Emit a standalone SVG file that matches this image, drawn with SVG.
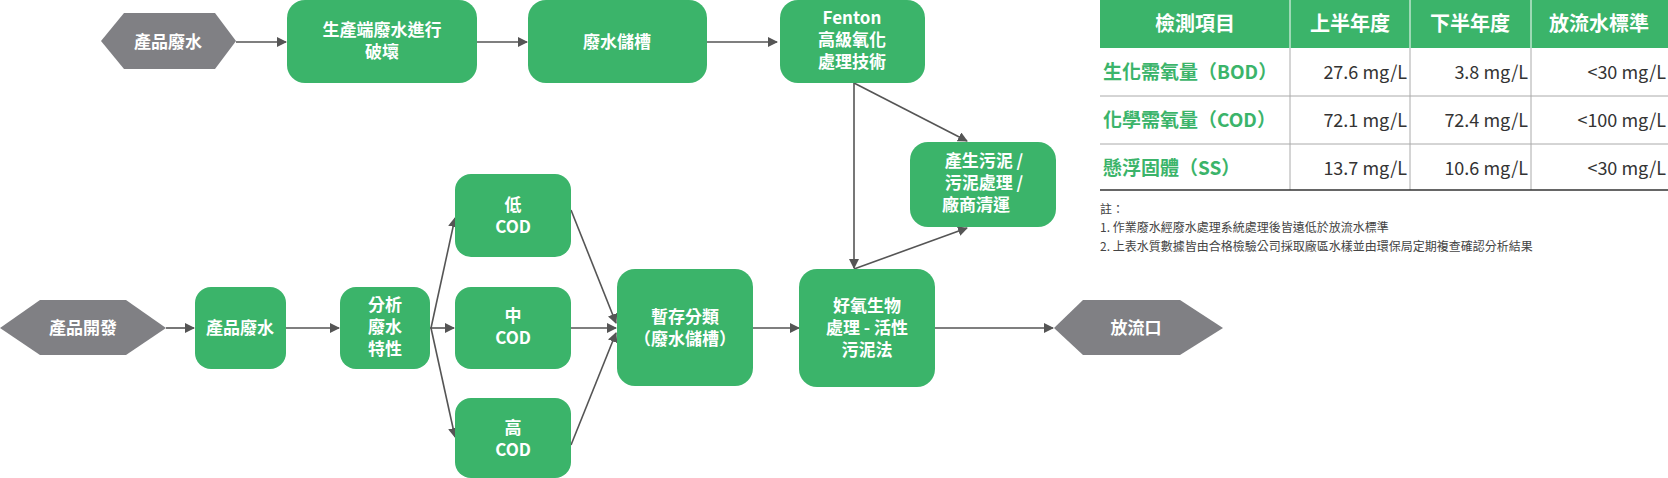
<svg xmlns="http://www.w3.org/2000/svg" width="1668" height="478" viewBox="0 0 1668 478">
<style>
.b{fill:#3bb46a}
.h{fill:#808084}
.t{font-family:"Noto Sans CJK TC","Noto Sans",sans-serif;font-weight:bold;font-size:17px;fill:#fff;text-anchor:middle}
.c line,.c polyline{stroke:#555;stroke-width:1.6;fill:none;marker-end:url(#a)}
.th{font-family:"Noto Sans CJK TC",sans-serif;font-weight:bold;font-size:20px;fill:#fff;text-anchor:middle}
.rl{font-family:"Noto Sans CJK TC",sans-serif;font-weight:bold;font-size:19px;fill:#3bb46a}
.v{font-family:"Noto Sans CJK TC",sans-serif;font-size:18px;fill:#333;text-anchor:end}
.n{font-family:"Noto Sans CJK TC",sans-serif;font-size:12px;fill:#444}
</style>
<defs><marker id="a" markerWidth="10" markerHeight="10" refX="9" refY="5" orient="auto" markerUnits="userSpaceOnUse"><path d="M0,0L10,5L0,10z" fill="#555"/></marker></defs>
<rect width="1668" height="478" fill="#fff"/>
<g class="c">
<line x1="236" y1="42" x2="286" y2="42"/>
<line x1="477" y1="42" x2="527" y2="42"/>
<line x1="707" y1="42" x2="777" y2="42"/>
<line x1="854" y1="83" x2="854" y2="268"/>
<line x1="854" y1="83" x2="967" y2="141"/>
<polyline points="854,269 967,228"/>
<line x1="166" y1="328" x2="194" y2="328"/>
<line x1="286" y1="328" x2="339" y2="328"/>
<line x1="430" y1="328" x2="454" y2="328"/>
<line x1="431" y1="328" x2="455" y2="218"/>
<line x1="431" y1="328" x2="455" y2="437"/>
<line x1="571" y1="210" x2="616" y2="323"/>
<line x1="571" y1="328" x2="616" y2="328"/>
<line x1="571" y1="445" x2="616" y2="333"/>
<line x1="753" y1="328" x2="799" y2="328"/>
<line x1="935" y1="328" x2="1053" y2="328"/>
</g>
<g id="n1"><polygon class="h" points="101,41 124,13 215,13 236,41 215,69 124,69"/><text class="t" x="168" y="48">產品廢水</text></g>
<g id="n2"><rect class="b" x="287" y="0" width="190" height="83" rx="18"/><text class="t" x="382" y="36">生產端廢水進行</text><text class="t" x="382" y="58">破壞</text></g>
<g id="n3"><rect class="b" x="528" y="0" width="179" height="83" rx="18"/><text class="t" x="617" y="48">廢水儲槽</text></g>
<g id="n4"><rect class="b" x="780" y="0" width="145" height="83" rx="18"/><text class="t" x="852" y="24">Fenton</text><text class="t" x="852" y="46">高級氧化</text><text class="t" x="852" y="68">處理技術</text></g>
<g id="n5"><rect class="b" x="910" y="142" width="146" height="85" rx="18"/><text class="t" x="984" y="167">產生污泥 /</text><text class="t" x="984" y="189">污泥處理 /</text><text class="t" x="976" y="211">廠商清運</text></g>
<g id="n6"><polygon class="h" points="0,328 40,300 126,300 166,328 126,355 40,355"/><text class="t" x="83" y="334">產品開發</text></g>
<g id="n7"><rect class="b" x="195" y="287" width="91" height="82" rx="16"/><text class="t" x="240" y="334">產品廢水</text></g>
<g id="n8"><rect class="b" x="340" y="287" width="90" height="82" rx="16"/><text class="t" x="385" y="311">分析</text><text class="t" x="385" y="333">廢水</text><text class="t" x="385" y="355">特性</text></g>
<g id="n9"><rect class="b" x="455" y="174" width="116" height="83" rx="16"/><text class="t" x="513" y="211">低</text><text class="t" x="513" y="233">COD</text></g>
<g id="n10"><rect class="b" x="455" y="287" width="116" height="82" rx="16"/><text class="t" x="513" y="322">中</text><text class="t" x="513" y="344">COD</text></g>
<g id="n11"><rect class="b" x="455" y="398" width="116" height="80" rx="16"/><text class="t" x="513" y="434">高</text><text class="t" x="513" y="456">COD</text></g>
<g id="n12"><rect class="b" x="617" y="269" width="136" height="117" rx="18"/><text class="t" x="685" y="323">暫存分類</text><text class="t" x="685" y="345">（廢水儲槽）</text></g>
<g id="n13"><rect class="b" x="799" y="269" width="136" height="118" rx="18"/><text class="t" x="867" y="312">好氧生物</text><text class="t" x="867" y="334">處理 - 活性</text><text class="t" x="867" y="356">污泥法</text></g>
<g id="n14"><polygon class="h" points="1054,328 1083,300 1180,300 1223,328 1180,355 1083,355"/><text class="t" x="1136" y="334">放流口</text></g>
<g id="table">
<rect x="1100" y="0" width="568" height="48" fill="#3bb46a"/>
<g stroke="#fff" stroke-width="1"><line x1="1290" y1="0" x2="1290" y2="48"/><line x1="1410" y1="0" x2="1410" y2="48"/><line x1="1531" y1="0" x2="1531" y2="48"/></g>
<g stroke="#aaa" stroke-width="1"><line x1="1100" y1="96" x2="1668" y2="96"/><line x1="1100" y1="144" x2="1668" y2="144"/><line x1="1290" y1="48" x2="1290" y2="190"/><line x1="1410" y1="48" x2="1410" y2="190"/><line x1="1531" y1="48" x2="1531" y2="190"/></g>
<line x1="1100" y1="190" x2="1668" y2="190" stroke="#333" stroke-width="1.5"/>
<text class="th" x="1195" y="31">檢測項目</text><text class="th" x="1350" y="31">上半年度</text><text class="th" x="1470" y="31">下半年度</text><text class="th" x="1599" y="31">放流水標準</text>
<text class="rl" x="1103" y="79">生化需氧量（BOD）</text><text class="v" x="1407" y="79">27.6 mg/L</text><text class="v" x="1528" y="79">3.8 mg/L</text><text class="v" x="1666" y="79">&lt;30 mg/L</text>
<text class="rl" x="1103" y="127">化學需氧量（COD）</text><text class="v" x="1407" y="127">72.1 mg/L</text><text class="v" x="1528" y="127">72.4 mg/L</text><text class="v" x="1666" y="127">&lt;100 mg/L</text>
<text class="rl" x="1103" y="175">懸浮固體（SS）</text><text class="v" x="1407" y="175">13.7 mg/L</text><text class="v" x="1528" y="175">10.6 mg/L</text><text class="v" x="1666" y="175">&lt;30 mg/L</text>
<text class="n" x="1100" y="214">註：</text>
<text class="n" x="1100" y="232">1. 作業廢水經廢水處理系統處理後皆遠低於放流水標準</text>
<text class="n" x="1100" y="251">2. 上表水質數據皆由合格檢驗公司採取廠區水樣並由環保局定期複查確認分析結果</text>
</g>
</svg>
